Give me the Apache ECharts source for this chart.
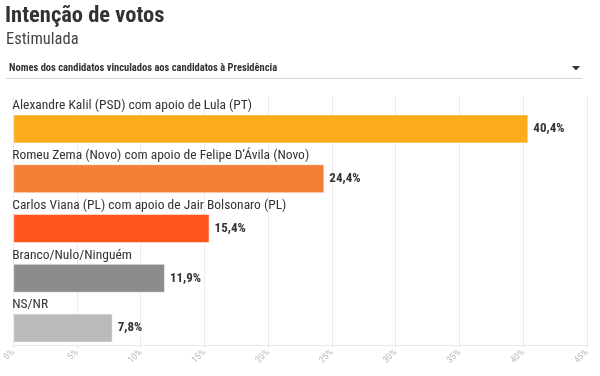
<!DOCTYPE html>
<html>
<head>
<meta charset="utf-8">
<script src="https://cdn.jsdelivr.net/npm/echarts@6/dist/echarts.min.js"></script>
<style>
  html, body { margin: 0; padding: 0; background: #fff; }
  #chart { width: 600px; height: 376px; }
</style>
</head>
<body>
<div id="chart"></div>
<script>
var dom = document.getElementById('chart');
var myChart = echarts.init(dom);

// dados
var candidatos = [
  'Alexandre Kalil (PSD) com apoio de Lula (PT)',
  'Romeu Zema (Novo) com apoio de Felipe D\u2019\u00c1vila (Novo)',
  'Carlos Viana (PL) com apoio de Jair Bolsonaro (PL)',
  'Branco/Nulo/Ningu\u00e9m',
  'NS/NR'
];
var intencao = [40.4, 24.4, 15.4, 11.9, 7.8];
var cores = ['#fcab1b', '#f37f34', '#ff5620', '#8c8c8c', '#bababa'];
var ticksX = [0, 5, 10, 15, 20, 25, 30, 35, 40, 45];

var fonte = '"Roboto Condensed", "Liberation Sans Narrow", Roboto';

option = {
  textStyle: { fontFamily: fonte },
  animation: false,
  title: [
    {
      text: 'Intenção de votos',
      left: 5, top: 5, padding: 0,
      textStyle: { fontSize: 22.5, fontWeight: 'bold', color: '#333', fontFamily: fonte }
    },
    {
      text: 'Estimulada',
      left: 6, top: 31, padding: 0,
      textStyle: { fontSize: 16.5, fontWeight: 'normal', color: '#444', fontFamily: fonte }
    },
    {
      text: 'Nomes dos candidatos vinculados aos candidatos à Presidência',
      left: 9, top: 63, padding: 0,
      textStyle: { fontSize: 10.5, fontWeight: 'bold', color: '#333', fontFamily: fonte }
    }
  ],
  graphic: [
    {
      type: 'line',
      shape: { x1: 6, y1: 78.5, x2: 582, y2: 78.5 },
      style: { stroke: '#d6d6d6', lineWidth: 1 }
    },
    {
      type: 'polygon',
      shape: { points: [[572, 66], [580, 66], [576, 70.5]] },
      style: { fill: '#333' }
    }
  ],
  grid: {
    left: 12,
    right: 13,
    top: 96,
    bottom: 31,
    containLabel: false
  },
  xAxis: {
    type: 'value',
    min: ticksX[0],
    max: ticksX[ticksX.length - 1],
    interval: 5,
    axisLine: { show: true, lineStyle: { color: '#e8e8e8' } },
    axisTick: { show: true, length: 3, lineStyle: { color: '#e8e8e8' } },
    splitLine: { show: true, lineStyle: { color: '#ececec' } },
    axisLabel: {
      rotate: 45,
      margin: 6,
      fontSize: 9.5,
      color: '#bcbcbc',
      formatter: '{value}%'
    }
  },
  yAxis: {
    type: 'category',
    inverse: true,
    data: candidatos,
    axisLine: { show: false },
    axisTick: { show: false },
    axisLabel: {
      inside: true,
      margin: -1,
      align: 'left',
      verticalAlign: 'bottom',
      padding: [0, 0, 8, 0],
      fontSize: 13.5,
      color: '#333'
    }
  },
  series: [
    {
      // espaço para o nome acima da barra
      name: 'espaco',
      type: 'bar',
      barWidth: 16,
      barGap: 0,
      silent: true,
      itemStyle: { color: 'transparent' },
      data: intencao.map(function () { return 0; })
    },
    {
      name: 'Intenção de votos',
      type: 'bar',
      barWidth: 29,
      barGap: 0,
      data: intencao.map(function (v, i) {
        return {
          value: v,
          itemStyle: { color: cores[i], borderColor: 'rgba(255,255,255,0.5)', borderWidth: 1 }
        };
      }),
      label: {
        show: true,
        position: 'right',
        distance: 5,
        fontSize: 13,
        fontWeight: 'bold',
        color: '#333',
        formatter: function (p) {
          return p.value.toFixed(1).replace('.', ',') + '%';
        }
      }
    }
  ]
};

if (option && typeof option === 'object') {
  myChart.setOption(option, true);
}
</script>
</body>
</html>
